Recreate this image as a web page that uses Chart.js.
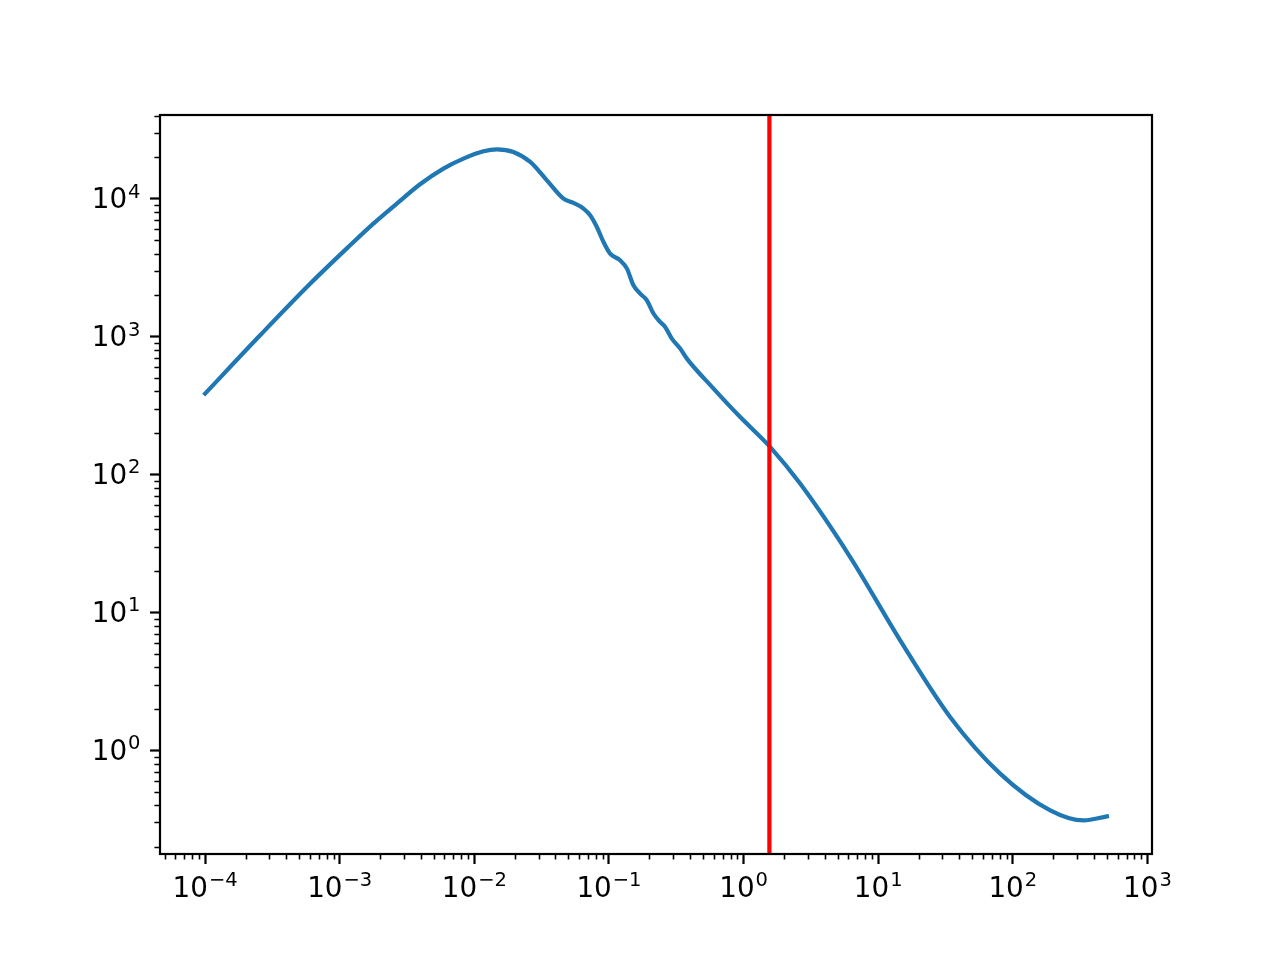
<!DOCTYPE html>
<html>
<head>
<meta charset="utf-8">
<script src="https://cdn.jsdelivr.net/npm/chart.js@4.4.1/dist/chart.umd.min.js"></script>
<style>
  html, body { margin: 0; padding: 0; background: #fff; }
  #wrap { width: 1280px; height: 960px; }
</style>
</head>
<body>
<div id="wrap"><canvas id="c" width="1280" height="960"></canvas></div>
<script>
/* ── Data (log-log) ── */
const xValues = [1e-4, 2.562e-4, 6.026e-4, 1.194e-3, 1.778e-3, 2.655e-3, 3.953e-3, 5.893e-3, 8.30e-3, 0.01169,
                 0.0147, 0.0195, 0.026, 0.03459, 0.04594, 0.0545, 0.0647, 0.0725, 0.0813, 0.0911,
                 0.102, 0.121, 0.136, 0.152, 0.1706, 0.191, 0.214, 0.240, 0.2615, 0.293,
                 0.338, 0.379, 0.598, 0.944, 1.578, 2.63, 6.19, 14.56,
                 34.3, 80.5, 189.7, 335, 500];
const yValues = [386, 1022, 2415, 4592, 6596, 9211, 12720, 16530, 19530, 22070,
                 22810, 21810, 18460, 13590, 10010, 9310, 8480, 7580, 6230, 4850,
                 4000, 3575, 3110, 2355, 2050, 1835, 1470, 1277, 1174, 967,
                 818, 692, 420, 261, 158, 85.9, 25.2, 6.28,
                 1.74, 0.678, 0.367, 0.31, 0.332];

const markerX = 1.555;   // red vertical line

const xMajorTicks   = [1e-4, 1e-3, 1e-2, 1e-1, 1, 10, 100, 1000];
const xTickExponents = ['\u22124', '\u22123', '\u22122', '\u22121', '0', '1', '2', '3'];
const yMajorTicks   = [1, 10, 100, 1000, 10000];
const yTickExponents = ['0', '1', '2', '3', '4'];

/* axis limits (matplotlib-style 5% log margins) */
const X_MIN = 4.624e-5, X_MAX = 1081;
const Y_MIN = 0.1771,   Y_MAX = 40430;

/* ── Helpers ── */
function minorTicks(min, max) {
  const out = [];
  for (let e = Math.floor(Math.log10(min)); e <= Math.ceil(Math.log10(max)); e++) {
    for (let k = 2; k <= 9; k++) {
      const v = k * Math.pow(10, e);
      if (v >= min && v <= max) out.push(v);
    }
  }
  return out;
}

const FAMILY   = "'DejaVu Sans', sans-serif";
const MAIN_PX  = 27.8;
const SUP_PX   = 19.5;
const SUP_RISE = 10.7;

// "10" with a raised exponent, like matplotlib mathtext
function drawPow(ctx, exp, x, baseline, align) {
  ctx.font = MAIN_PX + 'px ' + FAMILY;
  const wBase = ctx.measureText('10').width;
  ctx.font = SUP_PX + 'px ' + FAMILY;
  const wExp = ctx.measureText(exp).width;
  const gap = 1;
  const total = wBase + gap + wExp;
  const left = align === 'center' ? x - total / 2 : x - total;
  ctx.textAlign = 'left';
  ctx.textBaseline = 'alphabetic';
  ctx.font = MAIN_PX + 'px ' + FAMILY;
  ctx.fillText('10', left, baseline);
  ctx.font = SUP_PX + 'px ' + FAMILY;
  ctx.fillText(exp, left + wBase + gap, baseline - SUP_RISE);
}

/* frame, minor ticks and tick labels, placed through the scales */
const axesDecor = {
  id: 'axesDecor',
  afterDraw(chart) {
    const { ctx, chartArea: a, scales: { x, y } } = chart;
    ctx.save();
    ctx.strokeStyle = '#000';
    ctx.lineWidth = 1.6;
    ctx.beginPath();
    minorTicks(X_MIN, X_MAX).forEach(v => {
      const px = Math.round(x.getPixelForValue(v)) + 0.5;
      ctx.moveTo(px, a.bottom);
      ctx.lineTo(px, a.bottom + 5.6);
    });
    minorTicks(Y_MIN, Y_MAX).forEach(v => {
      const py = Math.round(y.getPixelForValue(v)) + 0.5;
      ctx.moveTo(a.left, py);
      ctx.lineTo(a.left - 5.6, py);
    });
    ctx.stroke();
    ctx.lineWidth = 2.2;
    ctx.strokeRect(a.left, a.top, a.right - a.left, a.bottom - a.top);

    ctx.fillStyle = '#000';
    xMajorTicks.forEach((v, i) => {
      drawPow(ctx, xTickExponents[i], x.getPixelForValue(v), a.bottom + 43, 'center');
    });
    yMajorTicks.forEach((v, i) => {
      drawPow(ctx, yTickExponents[i], a.left - 19.5, y.getPixelForValue(v) + 9.7, 'right');
    });
    ctx.restore();
  }
};

const curve = xValues.map((x, i) => ({ x, y: yValues[i] }));

new Chart(document.getElementById('c'), {
  type: 'line',
  data: {
    datasets: [
      {
        data: [{ x: markerX, y: Y_MIN }, { x: markerX, y: Y_MAX }],
        borderColor: '#ff0000',
        borderWidth: 4.2,
        pointRadius: 0,
        tension: 0
      },
      {
        data: curve,
        borderColor: '#1f77b4',
        borderWidth: 4.2,
        borderCapStyle: 'square',
        borderJoinStyle: 'round',
        pointRadius: 0,
        cubicInterpolationMode: 'monotone'
      }
    ]
  },
  options: {
    responsive: false,
    devicePixelRatio: 1,
    animation: false,
    layout: { padding: { top: 115, right: 128, left: 0, bottom: 0 } },
    plugins: { legend: { display: false }, tooltip: { enabled: false } },
    scales: {
      x: {
        type: 'logarithmic',
        min: X_MIN, max: X_MAX,
        bounds: 'data',
        afterBuildTicks: s => { s.ticks = xMajorTicks.map(v => ({ value: v })); },
        afterFit: s => { s.height = 106; s.paddingLeft = 0; s.paddingRight = 0; },
        border: { display: false },
        grid: { drawOnChartArea: false, drawTicks: true, tickLength: 10, tickWidth: 2.2, tickColor: '#000' },
        ticks: { display: false, autoSkip: false }
      },
      y: {
        type: 'logarithmic',
        min: Y_MIN, max: Y_MAX,
        bounds: 'data',
        afterBuildTicks: s => { s.ticks = yMajorTicks.map(v => ({ value: v })); },
        afterFit: s => { s.width = 160; s.paddingTop = 0; s.paddingBottom = 0; },
        border: { display: false },
        grid: { drawOnChartArea: false, drawTicks: true, tickLength: 10, tickWidth: 2.2, tickColor: '#000' },
        ticks: { display: false, autoSkip: false }
      }
    }
  },
  plugins: [axesDecor]
});
</script>
</body>
</html>
